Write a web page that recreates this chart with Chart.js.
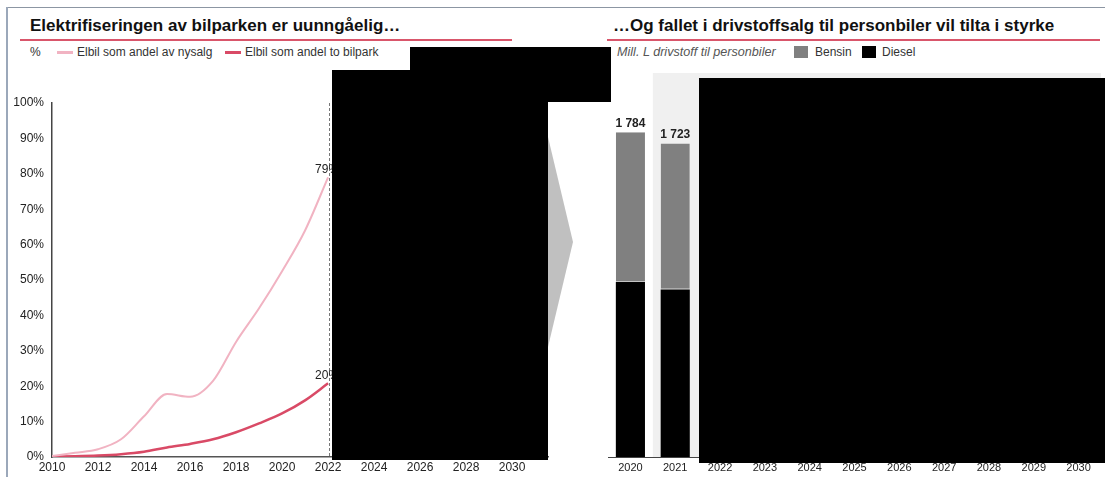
<!doctype html>
<html lang="no">
<head>
<meta charset="utf-8">
<title>Elbil og drivstoffsalg</title>
<style>
  * { margin: 0; padding: 0; box-sizing: border-box; }
  body {
    width: 1105px; height: 477px; position: relative; overflow: hidden;
    background: #fff; color: #222;
    font-family: "Liberation Sans", Arial, sans-serif;
  }
  .abs { position: absolute; }
  .frameTop { left: 7px; top: 7px; width: 1098px; height: 1px; background: #8c96a3; z-index: 5; }
  .frameLeft { left: 6px; top: 7px; width: 2px; height: 470px; background: #9ba8ba; z-index: 5; }
  .title { font-weight: bold; font-size: 17px; line-height: 20px; white-space: nowrap; color: #111; }
  .rule { height: 2px; background: #d9566b; }
  .leg { font-size: 12px; line-height: 14px; white-space: nowrap; color: #333; }
  .swatchLine { height: 3px; }
  .swatchBox { width: 14px; height: 12px; }
  .redact { background: #000; z-index: 10; }
  canvas { position: absolute; top: 0; }
</style>
</head>
<body>
  <div class="abs frameTop"></div>
  <div class="abs frameLeft"></div>

  <!-- left panel header -->
  <div class="abs title" style="left:30px; top:16px;">Elektrifiseringen av bilparken er uunngåelig…</div>
  <div class="abs rule" style="left:20px; top:39px; width:492px;"></div>
  <div class="abs leg" style="left:30px; top:45px;">%</div>
  <div class="abs swatchLine" style="left:57px; top:51px; width:16px; background:#f1b3c2;"></div>
  <div class="abs leg" style="left:77px; top:45px;">Elbil som andel av nysalg</div>
  <div class="abs swatchLine" style="left:225px; top:51px; width:16px; background:#d94a66;"></div>
  <div class="abs leg" style="left:245px; top:45px;">Elbil som andel to bilpark</div>

  <!-- right panel header -->
  <div class="abs title" style="left:613px; top:16px;">…Og fallet i drivstoffsalg til personbiler vil tilta i styrke</div>
  <div class="abs rule" style="left:607px; top:39px; width:493px;"></div>
  <div class="abs leg" style="left:617px; top:45px; font-size:12.6px; font-style:italic; color:#555;">Mill. L drivstoff til personbiler</div>
  <div class="abs swatchBox" style="left:794px; top:46px; background:#808080;"></div>
  <div class="abs leg" style="left:815px; top:45px;">Bensin</div>
  <div class="abs swatchBox" style="left:862px; top:46px; background:#000;"></div>
  <div class="abs leg" style="left:882px; top:45px;">Diesel</div>

  <!-- arrow tip between the panels -->
  <svg class="abs" style="left:0; top:0;" width="1105" height="477">
    <polygon points="500,137 548,137 573,242 548,347 500,347" fill="#c0c0c0"/>
  </svg>

  <canvas id="leftChart" width="560" height="477" style="left:0;"></canvas>
  <canvas id="rightChart" width="545" height="477" style="left:560px;"></canvas>

  <!-- redacted areas in the source image -->
  <div class="abs redact" style="left:332px; top:70px; width:216px; height:390px;"></div>
  <div class="abs redact" style="left:410px; top:47px; width:201px; height:55px;"></div>
  <div class="abs redact" style="left:699px; top:78px; width:406px; height:385px;"></div>

<script src="https://cdn.jsdelivr.net/npm/chart.js@4"></script>
<script>
// left chart data (percent)
const years = [2010, 2011, 2012, 2013, 2014, 2015, 2016, 2017, 2018, 2019, 2020, 2021, 2022];
const nysalg = [0.3, 1.2, 2.2, 5, 11.5, 17.8, 17, 21.5, 32.5, 42, 52.5, 64, 79];
const bilpark = [0.1, 0.2, 0.4, 0.8, 1.5, 2.7, 3.7, 5, 7, 9.5, 12.3, 16, 20.8];
const endLabels = ['79%', '20%'];
const leftXTicks = [2010, 2012, 2014, 2016, 2018, 2020, 2022, 2024, 2026, 2028, 2030];
const leftYTicks = ['0%', '10%', '20%', '30%', '40%', '50%', '60%', '70%', '80%', '90%', '100%'];

// right chart data (mill. liter)
const fuelYears = ['2020', '2021', '2022', '2023', '2024', '2025', '2026', '2027', '2028', '2029', '2030'];
const diesel = [961, 920, null, null, null, null, null, null, null, null, null];
const bensin = [823, 803, null, null, null, null, null, null, null, null, null];

const FONT = '"Liberation Sans", Arial, sans-serif';
Chart.defaults.font.family = FONT;
Chart.defaults.color = '#222';

function fmtThousands(n) {
  return String(n).replace(/\B(?=(\d{3})+(?!\d))/g, ' ');
}

// dashed line at last actual year + end value labels
const leftExtras = {
  id: 'leftExtras',
  afterDatasetsDraw(chart) {
    const ctx = chart.ctx;
    const xs = chart.scales.x;
    const area = chart.chartArea;
    const x = Math.round(xs.getPixelForValue(years[years.length - 1])) + 1.5;
    ctx.save();
    ctx.strokeStyle = '#777';
    ctx.lineWidth = 1;
    ctx.setLineDash([3, 2]);
    ctx.beginPath();
    ctx.moveTo(x, area.top);
    ctx.lineTo(x, area.bottom);
    ctx.stroke();
    ctx.setLineDash([]);
    ctx.font = '12px ' + FONT;
    ctx.fillStyle = '#222';
    ctx.textAlign = 'left';
    ctx.textBaseline = 'middle';
    chart.data.datasets.forEach((ds, i) => {
      const pts = chart.getDatasetMeta(i).data;
      const p = pts[pts.length - 1];
      ctx.fillText(endLabels[i], p.x - 13, p.y - 8);
    });
    ctx.restore();
  }
};

new Chart(document.getElementById('leftChart'), {
  type: 'line',
  data: {
    datasets: [
      {
        label: 'Elbil som andel av nysalg',
        data: years.map((y, i) => ({ x: y, y: nysalg[i] })),
        borderColor: '#f1b3c2',
        borderWidth: 2,
        pointRadius: 0,
        cubicInterpolationMode: 'monotone'
      },
      {
        label: 'Elbil som andel to bilpark',
        data: years.map((y, i) => ({ x: y, y: bilpark[i] })),
        borderColor: '#d94a66',
        borderWidth: 2.5,
        pointRadius: 0,
        cubicInterpolationMode: 'monotone'
      }
    ]
  },
  options: {
    responsive: false,
    animation: false,
    layout: { padding: { top: 103, right: 12, bottom: 0, left: 0 } },
    plugins: { legend: { display: false }, tooltip: { enabled: false } },
    scales: {
      x: {
        type: 'linear',
        min: 2010,
        max: 2031.56,
        grid: { display: false, drawTicks: false },
        border: { color: '#555', width: 1.5 },
        afterBuildTicks: s => { s.ticks = leftXTicks.map(v => ({ value: v })); },
        ticks: { font: { size: 12 }, color: '#222', padding: 3, maxRotation: 0, autoSkip: false, callback: v => String(v) },
        afterFit: s => { s.height = 20; }
      },
      y: {
        min: 0,
        max: 100,
        grid: { display: false, drawTicks: false },
        border: { color: '#444', width: 1.5 },
        ticks: { stepSize: 10, font: { size: 12 }, color: '#222', padding: 8, callback: (v, i) => leftYTicks[i] },
        afterFit: s => { s.width = 52; }
      }
    }
  },
  plugins: [leftExtras]
});

// shaded band from 2021 onwards + total labels
const rightExtras = {
  id: 'rightExtras',
  beforeDatasetsDraw(chart) {
    const ctx = chart.ctx;
    const xs = chart.scales.x;
    const area = chart.chartArea;
    const half = (xs.getPixelForValue(1) - xs.getPixelForValue(0)) / 2;
    const x0 = xs.getPixelForValue(1) - half;
    ctx.save();
    ctx.fillStyle = '#f0f0f0';
    ctx.fillRect(x0, 73, area.right - x0, area.bottom - 73);
    ctx.restore();
  },
  afterDatasetsDraw(chart) {
    const ctx = chart.ctx;
    const top = chart.getDatasetMeta(1).data;
    ctx.save();
    ctx.font = 'bold 12px ' + FONT;
    ctx.fillStyle = '#222';
    ctx.textAlign = 'center';
    ctx.textBaseline = 'middle';
    fuelYears.forEach((y, i) => {
      if (diesel[i] == null || bensin[i] == null) return;
      const bar = top[i];
      ctx.fillText(fmtThousands(diesel[i] + bensin[i]), bar.x, bar.y - 9);
    });
    ctx.restore();
  }
};

new Chart(document.getElementById('rightChart'), {
  type: 'bar',
  data: {
    labels: fuelYears,
    datasets: [
      { label: 'Diesel', data: diesel, backgroundColor: '#000' },
      {
        label: 'Bensin', data: bensin, backgroundColor: '#808080',
        borderColor: '#c4c4c4', borderWidth: { top: 0, left: 0, right: 0, bottom: 1 }, borderSkipped: false
      }
    ]
  },
  options: {
    responsive: false,
    animation: false,
    layout: { padding: { top: 93, right: 4, bottom: 0, left: 48 } },
    datasets: { bar: { barPercentage: 0.65, categoryPercentage: 1 } },
    plugins: { legend: { display: false }, tooltip: { enabled: false } },
    scales: {
      x: {
        stacked: true,
        grid: { display: false, drawTicks: false },
        border: { color: '#444', width: 1 },
        ticks: { font: { size: 11 }, color: '#222', padding: 4, maxRotation: 0, autoSkip: false },
        afterFit: s => { s.height = 20; }
      },
      y: {
        stacked: true,
        display: false,
        min: 0,
        max: 2000
      }
    }
  },
  plugins: [rightExtras]
});
</script>
</body>
</html>
